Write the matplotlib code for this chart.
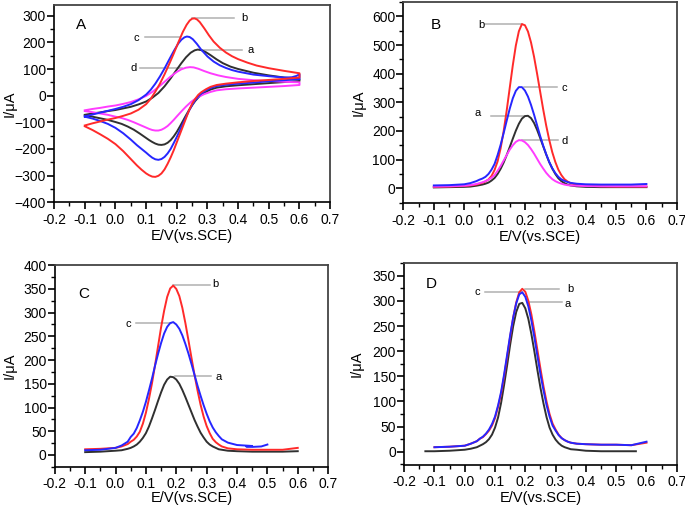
import numpy as np
import matplotlib
matplotlib.use('Agg')
from matplotlib import pyplot as plt
from matplotlib.ticker import MultipleLocator

plt.rcParams['font.family'] = ['Liberation Sans', 'DejaVu Sans']

RED = '#ff2a2a'
BLUE = '#2626ff'
BLACK = '#303030'
MAGENTA = '#ff3cff'
GUIDE = '#b0b0b0'

# ---------------- Panel A: cyclic voltammograms (forward branch, then reverse branch)
a_up_x = [-0.1, -0.075, -0.05, -0.025, 0.0, 0.025, 0.05, 0.075, 0.1, 0.12, 0.14, 0.16, 0.18, 0.2, 0.215, 0.23, 0.245, 0.258, 0.268, 0.28, 0.295, 0.31, 0.33, 0.35, 0.375, 0.4, 0.45, 0.5, 0.55, 0.6]
a_up_y = [-72, -67, -63, -58, -54, -48, -42, -33, -22, -8, 10, 35, 65, 98, 122, 144, 161, 170, 173, 171, 163, 152, 136, 122, 109, 100, 86, 76, 68, 62]
a_lo_x = [0.6, 0.55, 0.5, 0.45, 0.4, 0.36, 0.33, 0.31, 0.295, 0.28, 0.27, 0.26, 0.25, 0.24, 0.23, 0.22, 0.21, 0.2, 0.19, 0.18, 0.17, 0.16, 0.15, 0.14, 0.13, 0.12, 0.11, 0.1, 0.08, 0.06, 0.04, 0.02, 0.0, -0.025, -0.05, -0.075, -0.1]
a_lo_y = [55, 51, 47, 43, 39, 35, 30, 23, 14, 3, -7, -20, -36, -54, -74, -95, -116, -136, -153, -167, -177, -183, -185, -184, -180, -174, -167, -159, -143, -128, -116, -106, -99, -91, -85, -79, -74]

b_up_x = [-0.1, -0.075, -0.05, -0.025, 0.0, 0.025, 0.05, 0.075, 0.1, 0.115, 0.13, 0.145, 0.16, 0.175, 0.19, 0.205, 0.22, 0.232, 0.242, 0.25, 0.258, 0.266, 0.275, 0.29, 0.305, 0.32, 0.34, 0.36, 0.38, 0.4, 0.43, 0.46, 0.5, 0.55, 0.6]
b_up_y = [-112, -104, -97, -90, -84, -76, -67, -53, -32, -12, 15, 45, 80, 118, 158, 200, 240, 266, 282, 289, 290, 286, 276, 252, 226, 203, 180, 162, 148, 137, 124, 113, 103, 93, 84]
b_lo_x = [0.6, 0.55, 0.5, 0.45, 0.4, 0.36, 0.33, 0.31, 0.295, 0.28, 0.27, 0.26, 0.25, 0.24, 0.23, 0.22, 0.21, 0.2, 0.19, 0.18, 0.17, 0.16, 0.15, 0.14, 0.13, 0.12, 0.11, 0.1, 0.085, 0.07, 0.05, 0.025, 0.0, -0.025, -0.05, -0.075, -0.1]
b_lo_y = [68, 63, 59, 55, 50, 45, 40, 33, 24, 13, 3, -12, -30, -55, -85, -115, -145, -175, -205, -232, -256, -277, -292, -301, -305, -304, -299, -292, -278, -262, -238, -208, -182, -162, -145, -129, -115]

c_up_x = [-0.1, -0.075, -0.05, -0.025, 0.0, 0.025, 0.05, 0.075, 0.1, 0.115, 0.13, 0.145, 0.16, 0.175, 0.19, 0.205, 0.215, 0.225, 0.233, 0.242, 0.252, 0.265, 0.28, 0.3, 0.32, 0.34, 0.36, 0.38, 0.4, 0.45, 0.5, 0.55, 0.575, 0.59, 0.6]
c_up_y = [-78, -71, -64, -57, -50, -42, -32, -17, 4, 22, 45, 72, 102, 135, 167, 196, 210, 219, 222, 220, 212, 195, 172, 147, 128, 114, 104, 96, 90, 79, 73, 68, 69, 74, 80]
c_lo_x = [0.6, 0.55, 0.5, 0.45, 0.4, 0.36, 0.33, 0.31, 0.295, 0.28, 0.27, 0.26, 0.25, 0.24, 0.23, 0.22, 0.21, 0.2, 0.19, 0.18, 0.17, 0.16, 0.15, 0.14, 0.13, 0.12, 0.11, 0.1, 0.085, 0.07, 0.05, 0.025, 0.0, -0.025, -0.05, -0.075, -0.1]
c_lo_y = [62, 58, 54, 49, 45, 41, 36, 29, 20, 8, -3, -17, -35, -56, -80, -105, -130, -155, -178, -200, -217, -230, -238, -241, -239, -233, -224, -214, -200, -186, -165, -141, -121, -106, -95, -86, -79]

d_up_x = [-0.1, -0.075, -0.05, -0.025, 0.0, 0.025, 0.05, 0.075, 0.1, 0.12, 0.14, 0.16, 0.18, 0.2, 0.215, 0.23, 0.243, 0.255, 0.27, 0.29, 0.31, 0.335, 0.36, 0.4, 0.45, 0.5, 0.55, 0.6]
d_up_y = [-55, -50, -46, -41, -37, -31, -24, -14, -1, 14, 32, 52, 72, 89, 99, 105, 107, 106, 101, 92, 84, 76, 70, 63, 58, 55, 52, 50]
d_lo_x = [0.6, 0.55, 0.5, 0.45, 0.4, 0.36, 0.33, 0.31, 0.29, 0.275, 0.26, 0.245, 0.23, 0.215, 0.2, 0.19, 0.18, 0.17, 0.16, 0.15, 0.14, 0.13, 0.12, 0.11, 0.1, 0.08, 0.06, 0.04, 0.02, 0.0, -0.025, -0.05, -0.075, -0.1]
d_lo_y = [40, 36, 33, 30, 27, 24, 20, 14, 6, -2, -12, -25, -41, -59, -78, -91, -103, -114, -122, -128, -131, -131, -129, -125, -120, -110, -100, -91, -84, -79, -72, -67, -62, -58]

# ---------------- DPV potential grid (V)
dpv_x = [-0.1, -0.05, 0.0, 0.02, 0.04, 0.05, 0.06, 0.07, 0.08, 0.09, 0.1, 0.11, 0.12, 0.13, 0.14, 0.15,
         0.16, 0.17, 0.18, 0.19, 0.2, 0.21, 0.22, 0.23, 0.24, 0.25, 0.26, 0.27, 0.28, 0.29, 0.3, 0.31,
         0.32, 0.33, 0.34, 0.35, 0.37, 0.4, 0.45, 0.5, 0.55, 0.6]

# ---------------- Panel B
B_a = [3, 4, 5, 6, 9, 11, 13, 16, 20, 27, 36, 50, 68, 90, 116, 144, 173, 201, 225, 243, 252, 253, 245, 228,
       204, 176, 147, 118, 91, 69, 50, 35, 25, 18, 13, 10, 7, 5, 4, 4, 4, 4]
B_b = [5, 6, 8, 10, 13, 16, 19, 24, 31, 43, 64, 94, 140, 200, 272, 351, 429, 498, 548, 573, 569, 547, 509,
       459, 400, 338, 276, 219, 169, 126, 92, 65, 46, 32, 24, 18, 12, 9, 7, 6, 6, 6]
B_c = [10, 11, 14, 18, 25, 30, 34, 40, 50, 65, 85, 116, 152, 193, 236, 278, 314, 340, 353, 353, 341, 320,
       291, 257, 220, 183, 149, 119, 92, 70, 53, 40, 31, 26, 22, 19, 16, 14, 13, 13, 13, 15]
B_d = [6, 7, 9, 11, 15, 18, 21, 25, 30, 37, 46, 61, 78, 97, 116, 135, 150, 162, 168, 167, 161, 151, 137,
       121, 103, 85, 69, 54, 42, 32, 25, 20, 16, 13, 11, 10, 9, 8, 7, 7, 7, 7]

# ---------------- Panel C
C_a = [6, 7, 9, 10, 13, 15, 18, 22, 28, 36, 46, 60, 77, 95, 114, 132, 148, 159, 165, 164, 159, 150, 137,
       122, 106, 90, 74, 60, 47, 37, 28, 22, 18, 15, 12, 11, 9, 8, 7, 7, 7, 8]
C_b = [12, 13, 15, 18, 23, 28, 32, 39, 49, 66, 89, 118, 151, 189, 229, 269, 304, 333, 351, 357, 350, 335,
       310, 278, 242, 205, 169, 136, 106, 81, 61, 46, 34, 27, 22, 18, 14, 12, 11, 11, 11, 15]
C_c_x = dpv_x[:39] + [0.43, 0.45, 0.48, 0.5]
C_c = [10, 11, 15, 20, 28, 38, 45, 57, 73, 91, 112, 136, 161, 188, 213, 236, 256, 270, 278, 280, 275, 266,
       252, 234, 214, 192, 169, 146, 125, 105, 87, 71, 58, 48, 40, 33, 26, 21, 19, 18, 17, 18, 22]

# ---------------- Panel D
D_a_x = [-0.13] + dpv_x[:40] + [0.565]
D_a = [1, 1, 2, 4, 6, 9, 12, 15, 19, 25, 34, 48, 68, 97, 133, 172, 213, 250, 278, 294, 296, 285, 264, 234,
       199, 162, 127, 96, 69, 48, 34, 24, 17, 12, 9, 7, 5, 4, 2, 1, 1, 1]
D_b = [9, 10, 12, 16, 21, 26, 29, 35, 42, 52, 67, 89, 115, 150, 189, 229, 267, 297, 317, 324, 318, 300,
       273, 239, 202, 165, 130, 100, 75, 56, 44, 34, 27, 23, 20, 18, 16, 15, 14, 14, 13, 18]
D_c = [9, 10, 12, 16, 21, 26, 30, 36, 44, 55, 70, 92, 119, 154, 193, 232, 267, 295, 313, 317, 308, 289,
       261, 227, 190, 154, 122, 93, 70, 52, 42, 33, 27, 23, 20, 18, 16, 15, 14, 14, 13, 20]

# label guides: (text, line x0, line x1, line y, text x, text y)
A_labels = [('b', 0.25, 0.385, 292, 0.42, 292), ('c', 0.097, 0.21, 220, 0.067, 217),
            ('a', 0.276, 0.413, 172, 0.441, 172), ('d', 0.08, 0.217, 104, 0.058, 102)]
B_labels = [('b', 0.07, 0.19, 573, 0.056, 570), ('c', 0.198, 0.307, 353, 0.329, 351),
            ('a', 0.089, 0.198, 254, 0.043, 264), ('d', 0.19, 0.31, 168, 0.332, 165)]
C_labels = [('b', 0.19, 0.31, 359, 0.33, 361), ('c', 0.069, 0.184, 279, 0.041, 277),
            ('a', 0.195, 0.315, 166, 0.338, 165)]
D_labels = [('b', 0.2, 0.31, 323, 0.35, 324), ('c', 0.066, 0.19, 317, 0.043, 317),
            ('a', 0.215, 0.32, 297, 0.34, 294)]

fig = plt.figure(figsize=(6.85, 5.08), dpi=100)
axA = fig.add_axes([0.079, 0.602, 0.403, 0.388])
axB = fig.add_axes([0.589, 0.600, 0.399, 0.396])
axC = fig.add_axes([0.080, 0.081, 0.399, 0.397])
axD = fig.add_axes([0.590, 0.085, 0.398, 0.398])


def style(ax, ylim, ymaj, letter, lx, ly, ylab_x, xlab_y):
    ax.set_xlim(-0.2, 0.7)
    ax.set_ylim(*ylim)
    ax.xaxis.set_major_locator(MultipleLocator(0.1))
    ax.xaxis.set_minor_locator(MultipleLocator(0.05))
    ax.yaxis.set_major_locator(MultipleLocator(ymaj))
    ax.yaxis.set_minor_locator(MultipleLocator(ymaj / 2))
    ax.set_xticklabels(['%.1f' % v for v in ax.get_xticks()])
    ax.tick_params(which='major', direction='out', length=5, width=1.2, labelsize=10,
                   top=False, right=False)
    ax.tick_params(axis='y', which='major', pad=0.8)
    ax.tick_params(axis='x', which='major', pad=2.5)
    ax.tick_params(which='minor', direction='out', length=3, width=1.0, top=False, right=False)
    for s in ['left', 'bottom']:
        ax.spines[s].set_linewidth(1.2)
        ax.spines[s].set_color('black')
    for s in ['top', 'right']:
        ax.spines[s].set_linewidth(1.3)
        ax.spines[s].set_color('#444444')
    ax.set_xlabel('E/V(vs.SCE)', fontsize=10.5)
    ax.set_ylabel('I/\u03bcA', fontsize=10.5)
    ax.yaxis.set_label_coords(ylab_x, 0.5)
    ax.xaxis.set_label_coords(0.5, xlab_y)
    ax.text(lx, ly, letter, fontsize=11)


def guides(ax, labels):
    for t, x0, x1, y, tx, ty in labels:
        ax.plot([x0, x1], [y, y], color=GUIDE, lw=1.1, zorder=1)
        ax.text(tx, ty, t, fontsize=8, ha='center', va='center')


lw = 1.4
# A
axA.plot(a_up_x + a_lo_x, a_up_y + a_lo_y, color=BLACK, lw=lw)
axA.plot(d_up_x + d_lo_x, d_up_y + d_lo_y, color=MAGENTA, lw=lw)
axA.plot(c_up_x + c_lo_x, c_up_y + c_lo_y, color=BLUE, lw=lw)
axA.plot(b_up_x + b_lo_x, b_up_y + b_lo_y, color=RED, lw=lw)
guides(axA, A_labels)
style(axA, (-400, 340), 100, 'A', -0.128, 250, -0.134, -0.137)

# B
axB.plot(dpv_x, B_a, color=BLACK, lw=lw)
axB.plot(dpv_x, B_b, color=RED, lw=lw)
axB.plot(dpv_x, B_d, color=MAGENTA, lw=lw)
axB.plot(dpv_x, B_c, color=BLUE, lw=lw)
guides(axB, B_labels)
style(axB, (-52, 650), 100, 'B', -0.11, 555, -0.138, -0.134)

# C
axC.plot(dpv_x, C_a, color=BLACK, lw=lw)
axC.plot(dpv_x, C_b, color=RED, lw=lw)
axC.plot(C_c_x, C_c, color=BLUE, lw=lw)
guides(axC, C_labels)
style(axC, (-25, 400), 50, 'C', -0.122, 330, -0.139, -0.121)

# D
axD.plot(D_a_x, D_a, color=BLACK, lw=lw)
axD.plot(dpv_x, D_b, color=RED, lw=lw)
axD.plot(dpv_x, D_c, color=BLUE, lw=lw)
guides(axD, D_labels)
style(axD, (-26, 376), 50, 'D', -0.128, 325, -0.148, -0.129)

fig.savefig('out.png', dpi=100)
